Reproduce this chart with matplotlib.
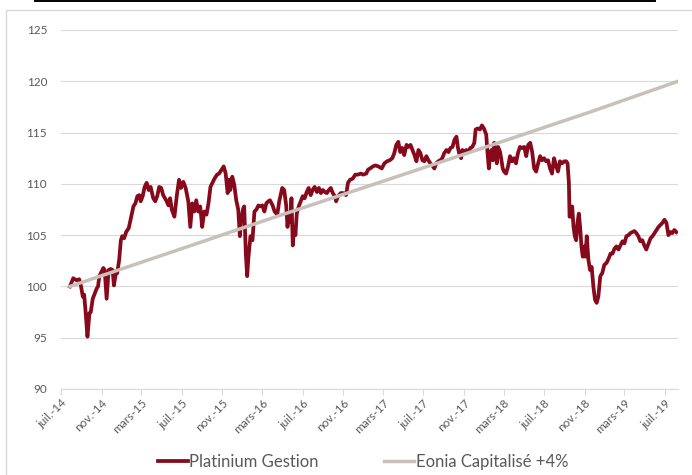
import matplotlib
matplotlib.use("Agg")
import matplotlib.pyplot as plt
import matplotlib.dates as mdates
from matplotlib.ticker import FuncFormatter
from matplotlib.lines import Line2D
from matplotlib.patches import Rectangle
import pandas as pd

plt.rcParams['font.family'] = ['Lato', 'DejaVu Sans']

# days since 2014-07-01
platinium_days = [
    27, 37, 47, 55, 60, 66, 70, 74, 80, 86, 90, 96, 102, 108, 112, 116, 122, 128, 132, 138,
    144, 150, 156, 160, 166, 170, 176, 181, 185, 191, 197, 205, 211, 219, 225, 231, 237, 241, 247, 253,
    259, 265, 271, 279, 285, 291, 297, 303, 309, 318,
    325, 330, 335, 343, 350, 357, 363, 370, 377, 385, 391, 397, 403, 409, 415, 421, 427, 433, 440, 446,
    452, 458, 464, 472, 478, 484, 492, 498, 504, 508, 512, 518, 524, 530, 536, 541, 545, 551, 554, 559,
    563, 567, 573, 579, 585, 591, 597, 603, 609, 615, 621, 627,
    632, 640, 646, 654, 660, 669, 675, 681, 685, 689, 693, 697, 701, 705, 709, 713, 719, 725, 731, 737,
    743, 749, 755, 761, 767, 774, 780, 786, 792, 798, 804, 810, 816, 822, 828, 832, 838, 846, 854, 862,
    868, 874, 882, 890, 898, 907, 914, 923, 929, 935, 943,
    951, 960, 970, 978, 986, 994, 1002, 1008, 1014, 1020, 1026, 1032, 1038, 1045, 1051, 1057, 1063, 1069, 1075, 1081,
    1087, 1093, 1099, 1105, 1111, 1117, 1123, 1129, 1135, 1141, 1147, 1153, 1159, 1166, 1172, 1178, 1184, 1190, 1196, 1200,
    1204, 1210, 1214, 1220, 1226, 1232, 1238, 1244, 1250, 1254, 1260, 1267, 1273, 1279,
    1286, 1290, 1294, 1298, 1302, 1306, 1310, 1314, 1318, 1322, 1328, 1332, 1336, 1340, 1346, 1352, 1358, 1364, 1370, 1376,
    1382, 1388, 1394, 1401, 1407, 1413, 1419, 1425, 1431, 1437, 1443, 1449, 1455, 1461, 1467, 1473, 1479, 1485, 1491, 1497,
    1503, 1509, 1515, 1522, 1528, 1532, 1536, 1538, 1542, 1546, 1550, 1554, 1558, 1562, 1566, 1570, 1574, 1578, 1582, 1586,
    1590,
    1595, 1600, 1605, 1610, 1615, 1620, 1625, 1631, 1637, 1643, 1650, 1656, 1662, 1668, 1674, 1680, 1686, 1692, 1698, 1704,
    1710, 1716, 1722, 1728, 1734, 1740, 1746, 1752, 1758, 1764, 1770, 1777, 1783, 1789, 1795, 1801, 1807, 1813, 1819, 1825,
    1831, 1837, 1843, 1849, 1855, 1861,
]
platinium_values = [
    100.0, 100.8, 100.6, 100.7, 100.1, 99.0, 99.2, 97.7, 95.1, 97.4, 97.5, 98.8, 99.3, 99.8, 100.0, 101.0, 101.4, 101.8, 101.6, 98.8,
    101.6, 101.7, 101.6, 100.1, 101.3, 101.3, 102.6, 104.5, 104.9, 104.7, 105.3, 105.7, 106.6, 107.8, 108.1, 108.8, 108.9, 108.3, 108.8, 109.7,
    110.1, 109.4, 109.7, 108.6, 108.3, 108.8, 109.7, 109.6, 108.9, 108.4,
    107.9, 108.6, 107.5, 106.8, 108.8, 110.4, 109.6, 110.2, 109.6, 108.3, 105.8, 108.1, 107.3, 108.4, 107.3, 107.8, 105.8, 107.3, 107.0, 108.1,
    109.7, 110.1, 110.5, 110.9, 111.0, 111.3, 111.7, 111.0, 109.1, 110.4, 109.4, 110.7, 109.9, 108.4, 107.5, 104.9, 106.5, 107.6, 107.8, 103.2,
    101.0, 102.9, 104.9, 104.5, 107.3, 107.5, 107.9, 107.8, 107.9, 107.3, 108.1, 108.3,
    108.4, 107.9, 107.3, 107.0, 108.3, 109.6, 109.4, 107.9, 105.8, 107.1, 106.3, 108.6, 104.0, 105.8, 105.0, 107.1, 107.8, 108.3, 108.8, 108.6,
    109.2, 109.6, 108.9, 109.4, 109.7, 109.2, 109.6, 109.1, 109.4, 109.2, 109.1, 109.4, 109.6, 109.1, 108.8, 108.3, 108.8, 109.1, 109.1, 108.9,
    110.1, 110.4, 110.5, 110.9, 110.9, 111.0, 110.9, 111.0, 111.4, 111.5, 111.7,
    111.8, 111.7, 111.5, 112.0, 112.2, 112.3, 112.5, 113.0, 113.8, 114.1, 113.1, 113.5, 112.8, 113.8, 113.6, 113.8, 113.3, 112.8, 112.2, 113.3,
    113.0, 112.3, 112.2, 112.7, 112.3, 112.0, 111.8, 111.5, 112.0, 112.2, 112.3, 112.5, 113.0, 113.3, 113.1, 113.5, 113.6, 114.3, 114.6, 113.6,
    113.0, 112.5, 113.3, 113.1, 113.3, 113.1, 113.5, 113.6, 114.0, 115.3, 115.4, 115.3, 115.7, 115.4,
    114.8, 113.0, 111.5, 113.0, 113.3, 112.3, 114.0, 113.0, 112.0, 113.6, 113.1, 112.3, 111.5, 111.2, 111.0, 111.7, 112.7, 112.2, 112.5, 112.0,
    113.0, 113.6, 113.5, 113.6, 112.7, 113.8, 114.0, 113.1, 111.5, 111.2, 112.0, 112.7, 112.3, 112.5, 112.2, 112.3, 111.5, 111.0, 112.5, 111.8,
    111.2, 112.2, 112.0, 112.2, 112.2, 112.0, 110.1, 106.8, 106.8, 107.8, 105.8, 104.9, 104.5, 106.2, 107.1, 105.8, 103.9, 102.9, 103.9, 102.9,
    104.9,
    102.6, 101.6, 101.9, 100.0, 98.7, 98.4, 99.0, 101.0, 101.3, 102.1, 102.3, 102.7, 103.2, 103.2, 103.7, 103.9, 103.6, 104.0, 104.4, 104.2,
    104.9, 105.0, 105.2, 105.3, 105.4, 105.2, 104.9, 104.4, 104.5, 104.0, 103.6, 104.2, 104.7, 104.9, 105.2, 105.5, 105.8, 106.0, 106.2, 106.5,
    106.2, 105.0, 105.3, 105.2, 105.5, 105.3,
]

eonia_days = [27, 330, 632, 950, 1267, 1600, 1866]
eonia_values = [100.0, 103.3, 106.6, 110.0, 113.4, 117.0, 120.0]

month_names = {3: "mars", 7: "juil.", 11: "nov."}
series_labels = ["Platinium Gestion", "Eonia Capitalisé +4%"]

start = pd.Timestamp("2014-07-01")
plat_dates = start + pd.to_timedelta(platinium_days, unit="D")
eonia_dates = start + pd.to_timedelta(eonia_days, unit="D")

fig = plt.figure(figsize=(6.92, 4.75), dpi=100)
ax = fig.add_axes([61 / 692, 86 / 475, 617 / 692, 359 / 475])

ax.plot(plat_dates, platinium_values, color="#870A1C", lw=2.7,
        solid_joinstyle="round", zorder=3, label=series_labels[0])
ax.plot(eonia_dates, eonia_values, color="#C8C1BA", lw=2.5, zorder=4,
        label=series_labels[1])

ax.set_ylim(90, 125)
ax.set_yticks(range(90, 126, 5))
ax.set_xlim(start, start + pd.Timedelta(days=1866))

ax.xaxis.set_major_locator(mdates.MonthLocator(bymonth=[3, 7, 11]))
ax.xaxis.set_major_formatter(FuncFormatter(
    lambda v, pos: "%s-%s" % (month_names[mdates.num2date(v).month],
                              mdates.num2date(v).strftime("%y"))))

for side in ["left", "right", "top"]:
    ax.spines[side].set_visible(False)
ax.spines["bottom"].set_color("#D9D9D9")
ax.grid(axis="y", color="#D9D9D9", lw=0.8)
ax.set_axisbelow(True)

ax.tick_params(axis="y", length=0, pad=10, labelsize=8.5, labelcolor="#595959")
ax.tick_params(axis="x", length=4, color="#D9D9D9", pad=2, labelsize=8.5,
               labelcolor="#595959")
for lbl in ax.get_xticklabels():
    lbl.set_rotation(45)
    lbl.set_ha("right")
    lbl.set_rotation_mode("anchor")

# outer chart frame and the clipped title underline at the top
fig.add_artist(Rectangle((6 / 692, -0.05), 1.0, 1 - 10 / 475 + 0.05,
                         transform=fig.transFigure, fill=False,
                         edgecolor="#D9D9D9", lw=1))
fig.add_artist(Line2D([35 / 692, 655 / 692], [1 - 0.5 / 475] * 2,
                      transform=fig.transFigure, color="black", lw=1.4))

handles, labels = ax.get_legend_handles_labels()
leg = fig.legend(handles, labels, loc="center",
                 bbox_to_anchor=(363 / 692, 1 - 462 / 475), ncol=2,
                 frameon=False, fontsize=12, handlelength=1.8,
                 handletextpad=0.1, columnspacing=3.9)
for t in leg.get_texts():
    t.set_color("#595959")

fig.savefig("out.png", dpi=100)
